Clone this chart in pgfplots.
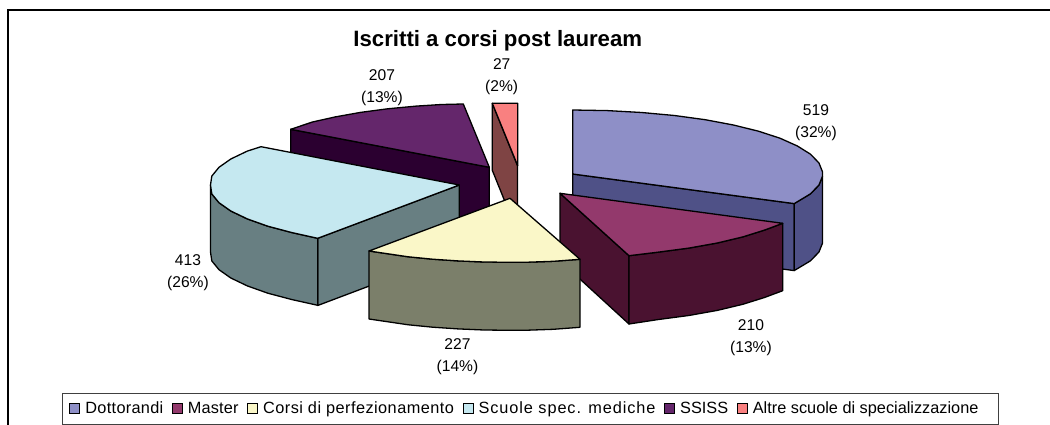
\documentclass[border=0pt]{standalone}
\usepackage{pgfplots}
\pgfplotsset{compat=1.18}
\usepackage{fontspec}
\setmainfont{Liberation Sans}
\definecolor{c1}{HTML}{8E8FC7}\definecolor{s1}{HTML}{4F5187}
\definecolor{c2}{HTML}{93396C}\definecolor{s2}{HTML}{4A1230}
\definecolor{c3}{HTML}{FAF7C8}\definecolor{s3}{HTML}{7B7F6A}
\definecolor{c4}{HTML}{C5E8F0}\definecolor{s4}{HTML}{687F82}
\definecolor{c5}{HTML}{64266B}\definecolor{s5}{HTML}{2B0030}
\definecolor{c6}{HTML}{F98080}\definecolor{s6}{HTML}{7F4444}
\newcommand{\ls}[2]{{\addfontfeature{LetterSpace=#1}#2}}
\begin{document}
\begin{tikzpicture}
\useasboundingbox (0,0) rectangle (1050pt,425pt);
\begin{axis}[
  scale only axis, width=1050pt, height=425pt, at={(0,0)}, anchor=south west,
  xmin=0, xmax=1050, ymin=0, ymax=425, y dir=reverse, hide axis, clip=true,
  legend style={at={(axis cs:62,392.7)}, anchor=north west, draw=black!75, line width=0.9pt,
    font=\fontsize{16.3}{19}\selectfont, fill=white, inner xsep=7pt, inner ysep=6.9pt,
    legend columns=-1, cells={anchor=west},
    /tikz/every even column/.style={column sep=6.7pt},
    /tikz/every odd column/.style={column sep=3pt}},
  legend image code/.code={\draw[#1,line width=1pt] (0pt,-5pt) rectangle (10pt,5pt);},
  slice/.style={draw=black, line width=1.3pt, line join=round, forget plot},
]
\addlegendimage{fill=c1,draw=black}\addlegendentry{\ls{1.8}{Dottorandi}}
\addlegendimage{fill=c2,draw=black}\addlegendentry{\ls{0.8}{Master}}
\addlegendimage{fill=c3,draw=black}\addlegendentry{\ls{2.8}{Corsi di perfezionamento}}
\addlegendimage{fill=c4,draw=black}\addlegendentry{\ls{5.6}{Scuole spec. mediche}}
\addlegendimage{fill=c5,draw=black}\addlegendentry{SSISS}
\addlegendimage{fill=c6,draw=black}\addlegendentry{Altre scuole di specializzazione\hspace*{10.5pt}}

% frame
\addplot[draw=black, line width=1.9pt, forget plot] coordinates {(8,426)(8,9.8)(1051,9.8)};

% Dottorandi
\addplot[slice, fill=s1] coordinates {(572.7,174)(794.2,203.6)(794.2,270.6)(572.7,241)} -- cycle;
\addplot[slice, fill=s1] coordinates {(794.2,203.6)(810.5,193.8)(818.9,185.1)(822.5,176.2)(822.5,243.2)(818.9,252.1)(810.5,260.8)(794.2,270.6)} -- cycle;
\addplot[slice, fill=c1] coordinates {(572.7,110)(607.5,110.6)(641.6,112.5)(674.4,115.5)(705.2,119.7)(733.4,125)(758.5,131.2)(780,138.2)(797.4,146)(810.5,154.2)(818.9,162.9)(822.5,171.8)(822.5,176.2)(818.9,185.1)(810.5,193.8)(794.2,203.6)(572.7,174)} -- cycle;

% SSISS
\addplot[slice, fill=s5] coordinates {(290.7,129.3)(489.3,167.3)(489.3,234.3)(290.7,196.3)} -- cycle;
\addplot[slice, fill=c5] coordinates {(489.3,167.3)(290.7,129.3)(312.5,122)(335.3,116.9)(360.5,112.4)(387.6,108.8)(416.3,106.1)(441.6,104.5)(463.3,104)} -- cycle;

% Altre
\addplot[slice, fill=s6] coordinates {(492.3,103.3)(517.5,165.7)(517.5,232.7)(492.3,170.3)} -- cycle;
\addplot[slice, fill=c6] coordinates {(492.3,103.3)(517.7,103.3)(517.7,165.7)} -- cycle;

% Scuole
\addplot[slice, fill=s4] coordinates {(317.7,238.3)(459.3,185)(459.3,252)(317.7,305.5)} -- cycle;
\addplot[slice, fill=s4] coordinates {(210.5,185)(211.8,193.9)(219,202.7)(230.8,211)(247.3,218.9)(267.8,226.2)(292,232.6)(317.7,238.3)(317.7,305.3)(292,299.6)(267.8,293.2)(247.3,285.9)(230.8,278)(219,269.7)(211.8,260.9)(210.5,252)} -- cycle;
\addplot[slice, fill=c4] coordinates {(459.3,185)(261,146.7)(247.3,151.1)(230.8,159)(219,167.3)(211.8,176.1)(210.5,185)(211.8,193.9)(219,202.7)(230.8,211)(247.3,218.9)(267.8,226.2)(292,232.6)(317.7,238.3)} -- cycle;

% Master
\addplot[slice, fill=s2] coordinates {(560,193.3)(629,255.7)(629,324)(560,260.8)} -- cycle;
\addplot[slice, fill=s2] coordinates {(629,255.7)(657.8,252.2)(688.8,248.1)(717.3,243)(742.8,236.9)(764.8,230)(782.7,223.3)(782.7,290.7)(764.8,297.4)(742.8,304.3)(717.3,310.4)(688.8,315.5)(657.8,319.6)(629,324)} -- cycle;
\addplot[slice, fill=c2] coordinates {(560,193.3)(782.7,223.3)(764.8,230)(742.8,236.9)(717.3,243)(688.8,248.1)(657.8,252.2)(629,255.7)} -- cycle;

% Corsi
\addplot[slice, fill=s3] coordinates {(369,251)(408.3,256.8)(432.7,259.2)(458,260.9)(483.9,262)(510,262.3)(527.4,262.2)(553.4,261.3)(580,259.3)(580,327.3)(553.4,329.3)(527.4,330.2)(510,330.3)(483.9,330)(458,328.9)(432.7,327.2)(408.3,324.8)(369,319)} -- cycle;
\addplot[slice, fill=c3] coordinates {(510,198.3)(369,251)(408.3,256.8)(432.7,259.2)(458,260.9)(483.9,262)(510,262.3)(527.4,262.2)(553.4,261.3)(580,259.3)} -- cycle;

% text
\node[anchor=base, font=\fontsize{22.2}{26}\bfseries\selectfont] at (axis cs:497.8,46.7) {Iscritti a corsi post lauream};
\begin{scope}[every node/.style={anchor=center, align=center, inner sep=0pt, text=black,
    font=\fontsize{15.6}{22.3}\selectfont}]
\node at (axis cs:816,123) {519\\(32\%)};
\node at (axis cs:751,338) {210\\(13\%)};
\node at (axis cs:457.5,357) {227\\(14\%)};
\node at (axis cs:188,273) {413\\(26\%)};
\node at (axis cs:382,87.5) {207\\(13\%)};
\node at (axis cs:501.7,76.7) {27\\(2\%)};
\end{scope}
\end{axis}
\end{tikzpicture}
\end{document}
